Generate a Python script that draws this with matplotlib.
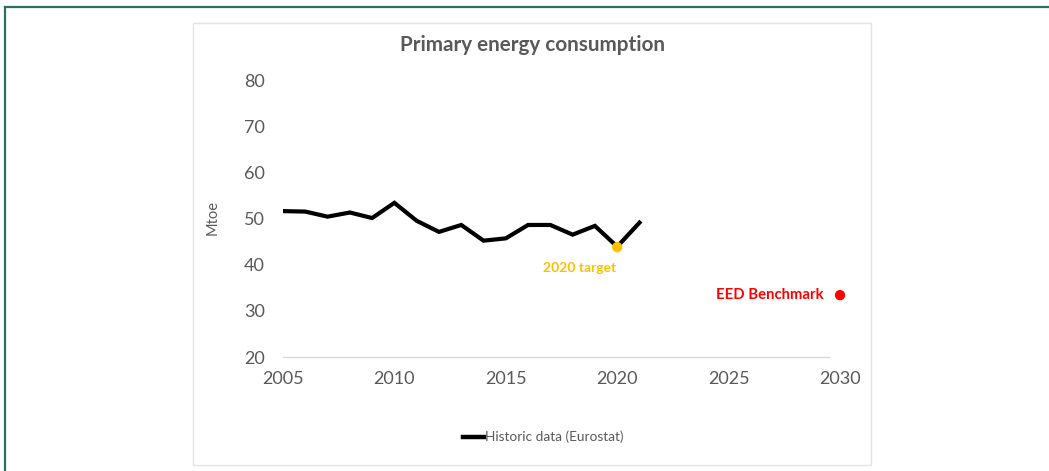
import matplotlib
matplotlib.use("Agg")
import matplotlib.pyplot as plt
from matplotlib.patches import Rectangle
from matplotlib.lines import Line2D

years = [2005, 2006, 2007, 2008, 2009, 2010, 2011, 2012, 2013, 2014, 2015,
         2016, 2017, 2018, 2019, 2020, 2021]
consumption = [51.6, 51.5, 50.4, 51.3, 50.1, 53.4, 49.5, 47.1, 48.6, 45.2, 45.7,
               48.6, 48.6, 46.5, 48.4, 43.9, 49.1]
target_year = [2020]
target_value = [43.8]
benchmark_year = [2030]
benchmark_value = [33.4]
x_ticks = [2005, 2010, 2015, 2020, 2025, 2030]
y_ticks = [20, 30, 40, 50, 60, 70, 80]

plt.rcParams['font.family'] = ['Lato', 'DejaVu Sans']
W, H = 1049, 471
fig = plt.figure(figsize=(W / 100, H / 100), dpi=100)
fig.patch.set_facecolor('white')

# outer green frame (top & left visible)
fig.add_artist(Line2D([4.5 / W, 4.5 / W], [0, 1 - 6.5 / H], transform=fig.transFigure,
                      color='#2f6f60', lw=1.6))
fig.add_artist(Line2D([4.5 / W, 1], [1 - 6.5 / H, 1 - 6.5 / H], transform=fig.transFigure,
                      color='#2f6f60', lw=1.6))
# inner chart box
fig.add_artist(Rectangle((193 / W, 1 - 465 / H), (871 - 193) / W, (465 - 23) / H,
                         transform=fig.transFigure, fill=False, edgecolor='#e3e3e3', lw=1.0))

ax = fig.add_axes([283 / W, 1 - 357 / H, (840 - 283) / W, (357 - 80) / H])
ax.set_facecolor('none')
ax.plot(years, consumption, color='black', lw=3.0, solid_joinstyle='miter', zorder=3)
ax.scatter(target_year, target_value, s=55, color='#ffc000', zorder=4, edgecolors='none',
           clip_on=False)
ax.scatter(benchmark_year, benchmark_value, s=55, color='#ff0000', zorder=4, edgecolors='none',
           clip_on=False)

ax.set_xlim(2005, 2030)
ax.set_ylim(20, 80)
ax.set_xticks(x_ticks)
ax.set_yticks(y_ticks)
for s in ['top', 'right', 'left']:
    ax.spines[s].set_visible(False)
ax.spines['bottom'].set_color('#d9d9d9')
ax.spines['bottom'].set_linewidth(1.0)
ax.spines['bottom'].set_bounds(2005, 2029.5)
ax.tick_params(axis='both', length=0, labelsize=13, labelcolor='#595959')
ax.tick_params(axis='x', pad=10)
ax.tick_params(axis='y', pad=13)

ax.set_ylabel('Mtoe', fontsize=10.5, color='#595959')
ax.yaxis.set_label_coords((220 - 283) / 557, (357 - 217) / 277)

ax.annotate('2020 target', xy=(target_year[0], target_value[0]), xytext=(-27, -15),
            textcoords='offset points', ha='center', va='center', fontsize=10,
            fontweight='bold', color='#ffc000')
ax.annotate('EED Benchmark', xy=(benchmark_year[0], benchmark_value[0]), xytext=(-12, 0),
            textcoords='offset points', ha='right', va='center', fontsize=10.7,
            fontweight='bold', color='#ff0000')

fig.text(532 / W, 1 - 45 / H, 'Primary energy consumption', ha='center', va='center',
         fontsize=14.9, fontweight='bold', color='#595959')

# legend
fig.add_artist(Line2D([463 / W, 484 / W], [1 - 437 / H, 1 - 437 / H], transform=fig.transFigure,
                      color='black', lw=3.2))
fig.text(485 / W, 1 - 437 / H, 'Historic data (Eurostat)', ha='left', va='center',
         fontsize=9.8, color='#595959')

fig.savefig('out.png', dpi=100, facecolor='white')
